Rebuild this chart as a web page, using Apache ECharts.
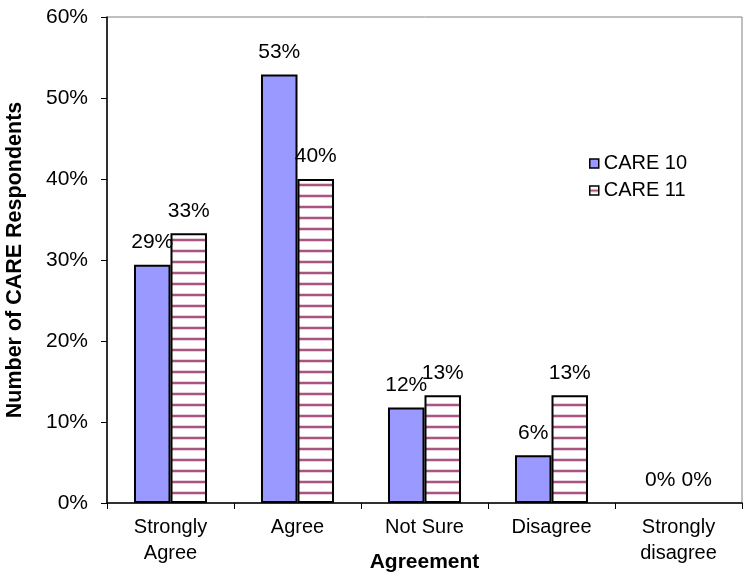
<!DOCTYPE html>
<html>
<head>
<meta charset="utf-8">
<script src="https://cdn.jsdelivr.net/npm/echarts@6/dist/echarts.min.js"></script>
<style>
  html, body { margin: 0; padding: 0; background: #ffffff; }
  #chart { width: 743px; height: 576px; }
</style>
</head>
<body>
<div id="chart"></div>
<script>
// Survey answers, share of respondents per agreement level (%)
const categories = ['Strongly\nAgree', 'Agree', 'Not Sure', 'Disagree', 'Strongly\ndisagree'];
const care10 = [29.4, 52.9, 11.8, 5.9, 0];
const care11 = [33.3, 40.0, 13.3, 13.3, 0];
const seriesNames = ['CARE 10', 'CARE 11'];
const yTicks = { min: 0, max: 60, interval: 10 };

const FONT = '"Liberation Sans", Arial, sans-serif';

// Horizontal stripe fill for the second series
function stripeCanvas() {
  const c = document.createElement('canvas');
  c.width = 8; c.height = 11;
  const g = c.getContext('2d');
  g.fillStyle = '#ffffff';
  g.fillRect(0, 0, 8, 11);
  g.fillStyle = '#ead0de';
  g.fillRect(0, 7, 8, 1);
  g.fillRect(0, 10, 8, 1);
  g.fillStyle = '#a8567f';
  g.fillRect(0, 8, 8, 2);
  return c;
}

// Zero-height bars get no outline so only their labels remain
function toItems(values) {
  return values.map(v => (v === 0 ? { value: v, itemStyle: { borderWidth: 0 } } : v));
}

const chart = echarts.init(document.getElementById('chart'), null, { renderer: 'canvas' });

const labelStyle = {
  show: true,
  position: 'top',
  distance: 12,
  color: '#000',
  fontFamily: FONT,
  fontSize: 21,
  formatter: p => Math.round(p.value) + '%'
};

const legendStripe = {
  type: 'linear', x: 0, y: 0, x2: 0, y2: 1,
  colorStops: [
    { offset: 0, color: '#ffffff' },
    { offset: 0.3, color: '#ffffff' },
    { offset: 0.42, color: '#d9a9c3' },
    { offset: 0.5, color: '#a8567f' },
    { offset: 0.62, color: '#d9a9c3' },
    { offset: 0.72, color: '#ffffff' },
    { offset: 1, color: '#ffffff' }
  ]
};

chart.setOption({
  animation: false,
  backgroundColor: '#ffffff',
  grid: {
    left: 107, right: 1, top: 17, bottom: 73,
    outerBoundsMode: 'none',
    containLabel: false,
    show: true, borderColor: '#808080', borderWidth: 1,
    backgroundColor: 'transparent'
  },
  legend: {
    orient: 'vertical',
    left: 589, top: 153,
    padding: 0,
    itemWidth: 9, itemHeight: 9, itemGap: 6,
    icon: 'rect',
    textStyle: { fontFamily: FONT, fontSize: 20, lineHeight: 21, color: '#000' },
    data: [
      { name: seriesNames[0], itemStyle: { color: '#9999ff', borderColor: '#000', borderWidth: 1.5 } },
      { name: seriesNames[1], itemStyle: { color: legendStripe, borderColor: '#000', borderWidth: 1.5 } }
    ]
  },
  xAxis: {
    type: 'category',
    data: categories,
    name: 'Agreement',
    nameLocation: 'middle',
    nameGap: 49,
    nameMoveOverlap: false,
    nameTextStyle: { fontFamily: FONT, fontSize: 21, fontWeight: 'bold', color: '#000' },
    axisLine: { lineStyle: { color: '#000', width: 1.5 } },
    axisTick: { show: true, alignWithLabel: false, length: 6, lineStyle: { color: '#000' } },
    axisLabel: { fontFamily: FONT, fontSize: 20, color: '#000', margin: 11, lineHeight: 26, interval: 0 }
  },
  yAxis: {
    type: 'value',
    min: yTicks.min, max: yTicks.max, interval: yTicks.interval,
    name: 'Number of CARE Respondents',
    nameLocation: 'middle',
    nameGap: 81,
    nameMoveOverlap: false,
    nameTextStyle: { fontFamily: FONT, fontSize: 21.5, fontWeight: 'bold', color: '#000' },
    axisLine: { show: true, lineStyle: { color: '#000', width: 1.5 } },
    axisTick: { show: true, length: 6, lineStyle: { color: '#000' } },
    axisLabel: { fontFamily: FONT, fontSize: 21, color: '#000', margin: 19, formatter: '{value}%' },
    splitLine: { show: false }
  },
  series: [
    {
      name: seriesNames[0],
      type: 'bar',
      data: toItems(care10),
      barGap: '0%',
      barCategoryGap: '42.5%',
      itemStyle: { color: '#9999ff', borderColor: '#000', borderWidth: 2 },
      label: labelStyle,
      z: 2
    },
    {
      name: seriesNames[1],
      type: 'bar',
      data: toItems(care11),
      barGap: '0%',
      barCategoryGap: '42.5%',
      itemStyle: {
        color: { image: stripeCanvas(), repeat: 'repeat' },
        borderColor: '#000', borderWidth: 2
      },
      label: labelStyle,
      z: 2
    }
  ]
});
</script>
</body>
</html>
